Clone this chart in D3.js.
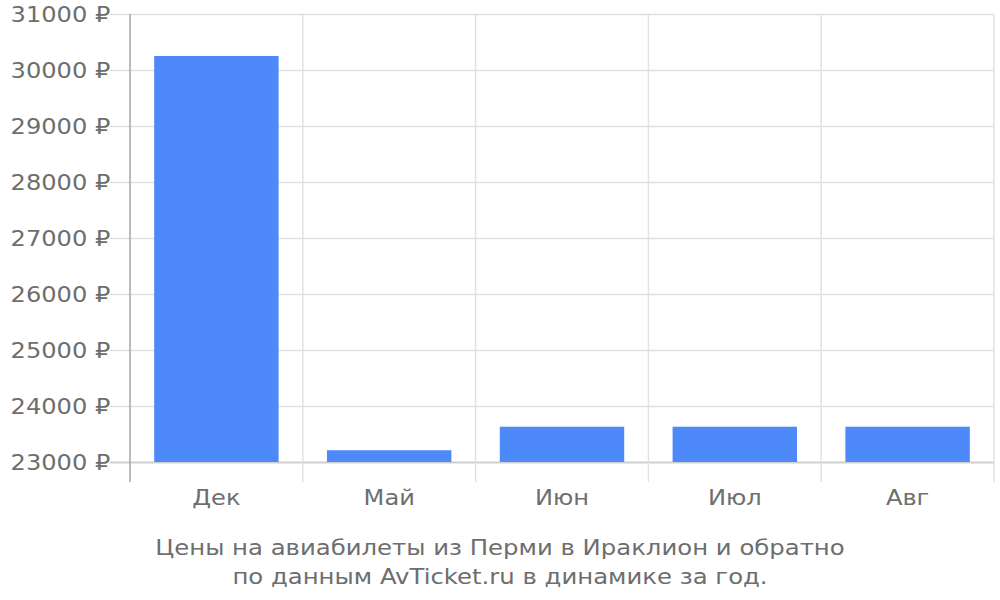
<!DOCTYPE html>
<html>
<head>
<meta charset="utf-8">
<script src="https://cdn.jsdelivr.net/npm/d3@7.9.0/dist/d3.min.js"></script>
<style>
  body { margin: 0; background: #fff; }
  text { font-family: "DejaVu Sans", sans-serif; fill: #6e6e6e; }
</style>
</head>
<body>
<svg id="chart" width="1000" height="600"></svg>
<script>
// ---------- DATA ----------
const months = ['Дек', 'Май', 'Июн', 'Июл', 'Авг'];
const prices = [30250, 23210, 23630, 23630, 23630];
const yTicks = [23000, 24000, 25000, 26000, 27000, 28000, 29000, 30000, 31000];
const titleLines = [
  'Цены на авиабилеты из Перми в Ираклион и обратно',
  'по данным AvTicket.ru в динамике за год.'
];

// ---------- LAYOUT ----------
const width = 1000;
const height = 600;
const margin = { top: 14, right: 6, bottom: 138, left: 130 };
const plot = {
  left: margin.left,
  right: width - margin.right,
  top: margin.top,
  bottom: height - margin.bottom,
};
const stretch = 1.16; // text in the reference is drawn a bit wide
const fontSize = 20.8;

const svg = d3.select('#chart');

const x = d3.scaleBand()
  .domain(months)
  .range([plot.left, plot.right]);

const y = d3.scaleLinear()
  .domain([23000, 31000])
  .range([plot.bottom, plot.top]);

// --- horizontal gridlines (with ticks extending left)
svg.append('g')
  .attr('transform', `translate(${plot.left},0)`)
  .call(d3.axisLeft(y).tickValues(yTicks).tickSize(-(plot.right - plot.left)).tickSizeOuter(0)
    .tickFormat(d => `${d} ₽`).tickPadding(17))
  .call(g => g.select('.domain').remove())
  .call(g => g.selectAll('.tick line')
    .attr('x1', -20)
    .attr('stroke', d => d === 23000 ? '#cfcfcf' : '#e0e0e0')
    .attr('stroke-width', d => d === 23000 ? 2 : 1.4))
  .call(g => g.selectAll('.tick text')
    .attr('font-size', fontSize)
    .attr('fill', '#6e6e6e')
    .attr('dy', '0.36em')
    .attr('transform', `scale(${stretch},1)`));

// --- vertical gridlines between categories
svg.append('g')
  .selectAll('line')
  .data(months)
  .join('line')
  .attr('x1', d => x(d) + x.bandwidth())
  .attr('x2', d => x(d) + x.bandwidth())
  .attr('y1', plot.top)
  .attr('y2', plot.bottom + 20)
  .attr('stroke', '#e0e0e0')
  .attr('stroke-width', 1.4);

// --- left axis line
svg.append('line')
  .attr('x1', plot.left).attr('x2', plot.left)
  .attr('y1', plot.top).attr('y2', plot.bottom + 20)
  .attr('stroke', '#aaa')
  .attr('stroke-width', 1.6);

// --- bars
const barW = x.bandwidth() * 0.72;
svg.append('g')
  .selectAll('rect')
  .data(months.map((m, i) => ({ month: m, price: prices[i] })))
  .join('rect')
  .attr('x', d => x(d.month) + (x.bandwidth() - barW) / 2)
  .attr('width', barW)
  .attr('y', d => y(d.price))
  .attr('height', d => y(23000) - y(d.price))
  .attr('fill', '#4d89f9');

// --- category labels
svg.append('g')
  .selectAll('text')
  .data(months)
  .join('text')
  .attr('transform', d => `translate(${x(d) + x.bandwidth() / 2},${plot.bottom + 43}) scale(${stretch},1)`)
  .attr('text-anchor', 'middle')
  .attr('font-size', fontSize)
  .text(d => d);

// --- title below chart
svg.append('g')
  .selectAll('text')
  .data(titleLines)
  .join('text')
  .attr('transform', (d, i) => `translate(500,${555 + i * 29}) scale(${stretch},1)`)
  .attr('text-anchor', 'middle')
  .attr('font-size', 21)
  .text(d => d);
</script>
</body>
</html>
